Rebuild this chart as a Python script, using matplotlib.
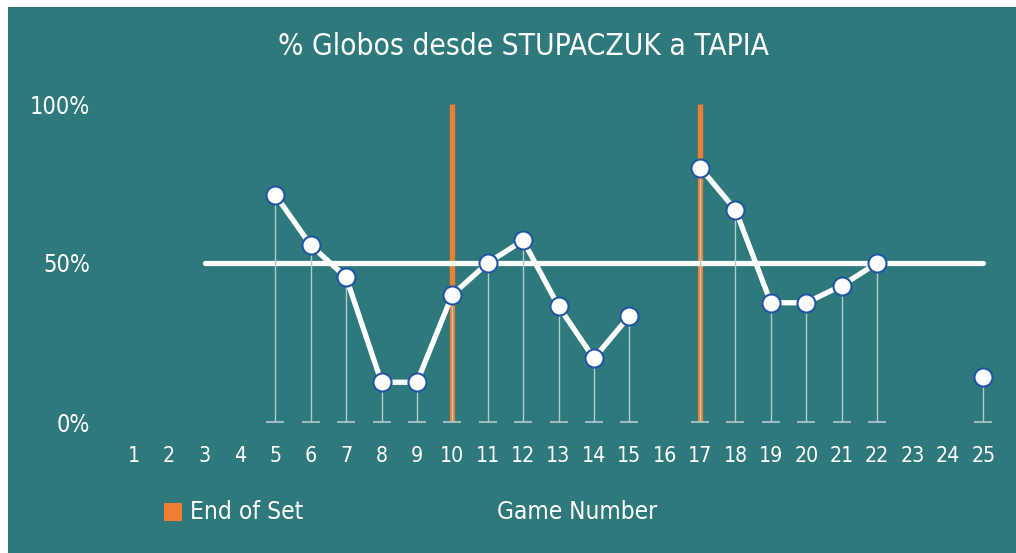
import numpy as np
import matplotlib.pyplot as plt
from matplotlib import font_manager
from matplotlib.font_manager import FontProperties
from matplotlib.patches import Rectangle
from matplotlib.textpath import TextPath

# Data
games = list(range(1, 26))
pct_globos = [np.nan, np.nan, np.nan, np.nan, 0.714, 0.556, 0.455, 0.125, 0.125, 0.40,
              0.50, 0.571, 0.364, 0.20, 0.333, np.nan, 0.80, 0.667, 0.375, 0.375,
              0.429, 0.50, np.nan, np.nan, 0.143]
end_of_set = [10, 17]
avg_start, avg_end = 3, 25
avg_value = 0.5
y_ticks = [0, 0.5, 1.0]
y_labels = ['0%', '50%', '100%']
title = '% Globos desde STUPACZUK a TAPIA'

teal = '#2d797b'
orange = '#ef7f30'
stem_col = '#b4cbcb'
DPI = 100

# look for a narrow / condensed regular font, else plain DejaVu Sans
fp = FontProperties(family='DejaVu Sans')
for f in font_manager.fontManager.ttflist:
    tag = (f.name + ' ' + f.fname).lower()
    if ('condensed' in tag or 'narrow' in tag or f.stretch == 'condensed') \
            and f.weight in (400, 'normal', 'regular') and f.style == 'normal' \
            and 'bold' not in tag and 'oblique' not in tag and 'italic' not in tag:
        fp = FontProperties(fname=f.fname)
        break


def fit(text, width_px):
    # font size (pt) that makes text about width_px wide
    w1 = TextPath((0, 0), text, size=1, prop=fp).get_extents().width
    return width_px * 72 / DPI / w1


fig = plt.figure(figsize=(10.16, 5.53), dpi=DPI)
fig.patch.set_facecolor('white')
fig.patches.append(Rectangle((8 / 1016, 0), 1, 1 - 7 / 553, transform=fig.transFigure,
                             facecolor=teal, edgecolor='none', zorder=-10))

ax = fig.add_axes([116 / 1016, 1 - 422 / 553, (1001 - 116) / 1016, 318 / 553])
ax.set_facecolor('none')

# end of set bars
for g in end_of_set:
    ax.plot([g, g], [0, 1], color=orange, lw=3.8, solid_capstyle='butt', zorder=1)

# average line
ax.plot([avg_start, avg_end], [avg_value, avg_value], color='white', lw=3.8,
        solid_capstyle='round', zorder=2)

# drop lines with small caps at the bottom
for g, v in zip(games, pct_globos):
    if np.isnan(v):
        continue
    ax.plot([g, g], [0, v], color=stem_col, lw=1.0, zorder=3)
    ax.plot(g, 0, marker='_', ms=13, mew=1.2, color=stem_col, zorder=3)

ax.plot(games, pct_globos, color='white', lw=3.8, marker='o', ms=13,
        mfc='white', mec='#1f55a5', mew=1.5, zorder=4)

ax.set_xlim(0.5, 25.5)
ax.set_ylim(0, 1)
ax.set_xticks(games)
ax.set_xticklabels([str(g) for g in games], fontproperties=fp, fontsize=fit('10', 21),
                   color='white')
ax.set_yticks(y_ticks)
ax.set_yticklabels(y_labels, fontproperties=fp, fontsize=fit('100%', 57), color='white')
ax.tick_params(axis='x', length=0, pad=17)
ax.tick_params(axis='y', length=0, pad=18.5)
for s in ax.spines.values():
    s.set_visible(False)

fig.text(523 / 1016, 1 - 47 / 553, title, ha='center', va='center',
         fontproperties=fp, fontsize=fit(title, 490), color='white')
fig.text(577 / 1016, 1 - 512 / 553, 'Game Number', ha='center', va='center',
         fontproperties=fp, fontsize=fit('Game Number', 158), color='white')
fig.patches.append(Rectangle((164 / 1016, 1 - 521 / 553), 18 / 1016, 18 / 553,
                             transform=fig.transFigure, facecolor=orange, edgecolor='none'))
fig.text(190 / 1016, 1 - 512 / 553, 'End of Set', ha='left', va='center',
         fontproperties=fp, fontsize=fit('End of Set', 110), color='white')

fig.savefig('out.png', dpi=DPI, facecolor=fig.get_facecolor())
